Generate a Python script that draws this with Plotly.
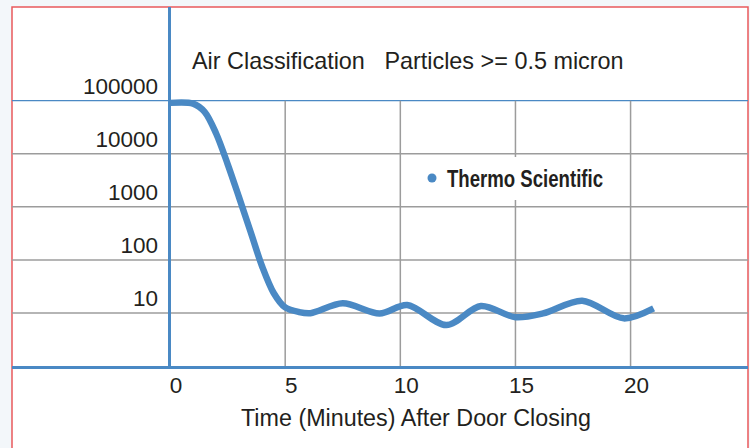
import plotly.graph_objects as go

# ---- data ----
minutes = [0, 1.0, 1.5, 2.0, 2.5, 3.0, 3.5, 4.0, 4.5, 5.0, 5.6, 6.1,
           7.5, 9.1, 10.3, 12.0, 13.5, 15.0, 16.2, 17.9, 19.7, 21.0]
particles = [91000, 88000, 61500, 24100, 6400, 1490, 335, 75, 23.8, 12.7, 10.4, 9.9,
             15.2, 9.8, 14.1, 5.9, 13.5, 8.3, 9.8, 17.0, 7.9, 12.2]
series_name = "Thermo Scientific"

x_ticks = [0, 5, 10, 15, 20]
x_tick_labels = ["0", "5", "10", "15", "20"]
y_ticks = [10, 100, 1000, 10000, 100000]
y_tick_labels = ["10", "100", "1000", "10000", "100000"]
grid_top = 100000
grid_bottom = 1

title_text = "Air Classification\u00a0\u00a0\u00a0Particles >= 0.5 micron"
x_title = "Time (Minutes) After Door Closing"

# ---- styles ----
BLUE = "#4a89c4"
GRID = "#9c9c9c"
TEXT = "#231f20"
RED = "#e95a5c"
FONT = "Liberation Sans, Arial, sans-serif"

W, H = 750, 448
ML, MR, MT, MB = 12, 2, 7, 82
plot_w = W - ML - MR
plot_h = H - MT - MB

fig = go.Figure()

# main curve
fig.add_trace(go.Scatter(
    x=minutes, y=particles, mode="lines",
    line=dict(color=BLUE, width=6.5, shape="spline", smoothing=0.9),
    showlegend=False, hoverinfo="skip"))

# legend entry (dot symbol)
fig.add_trace(go.Scatter(
    x=[None], y=[None], mode="markers", name=series_name,
    marker=dict(color=BLUE, size=9), showlegend=True))

shapes = []
# white card with red border
shapes.append(dict(type="rect", xref="paper", yref="paper",
                   x0=0, x1=1, y0=-(MB + 20) / plot_h, y1=1,
                   fillcolor="white", line=dict(color=RED, width=1.5),
                   layer="below"))
# horizontal grid lines (grey), top one blue
for yv in y_ticks:
    shapes.append(dict(type="line", xref="paper", yref="y",
                       x0=0, x1=1, y0=yv, y1=yv,
                       line=dict(color=BLUE if yv == grid_top else GRID,
                                 width=1.3 if yv == grid_top else 1.5),
                       layer="below"))
# vertical grid lines from the bottom to the 100000 line
for xv in x_ticks[1:]:
    shapes.append(dict(type="line", xref="x", yref="y",
                       x0=xv, x1=xv, y0=grid_bottom, y1=grid_top,
                       line=dict(color=GRID, width=1.5), layer="below"))

yaxis_px = 168.5
fig.update_layout(
    width=W, height=H,
    margin=dict(l=ML, r=MR, t=MT, b=MB, pad=0),
    paper_bgcolor="#f3f7fa",
    plot_bgcolor="white",
    font=dict(family=FONT, color=TEXT),
    shapes=shapes,
    xaxis=dict(
        range=[-6.865, 25.10],
        tickmode="array", tickvals=x_ticks, ticktext=x_tick_labels,
        showgrid=False, zeroline=False,
        showline=True, linecolor=BLUE, linewidth=3,
        ticks="", ticklabelshift=6, ticklabelstandoff=-3,
        tickfont=dict(size=22.5, color=TEXT, family=FONT),
        fixedrange=True),
    yaxis=dict(
        type="log", range=[0, 6.766],
        anchor="free", position=(yaxis_px - ML) / plot_w,
        tickmode="array", tickvals=y_ticks, ticktext=y_tick_labels,
        showgrid=False,
        zeroline=False, showline=True, linecolor=BLUE, linewidth=3,
        ticks="", ticklabelshift=-15, ticklabelstandoff=5,
        tickfont=dict(size=22.5, color=TEXT, family=FONT),
        fixedrange=True),
    legend=dict(
        x=(412 - ML) / plot_w, xanchor="left",
        y=(366 - 178) / plot_h, yanchor="middle",
        bgcolor="white", borderwidth=0,
        font=dict(family=FONT, size=23, color=TEXT, weight="bold"),
        itemwidth=30),
    annotations=[
        dict(text=title_text, xref="paper", yref="paper",
             x=(190 - ML) / plot_w, xanchor="left",
             y=(366 - 61) / plot_h, yanchor="middle",
             showarrow=False, font=dict(size=23.4, color=TEXT, family=FONT)),
        dict(text=x_title, xref="paper", yref="paper",
             x=(415.5 - ML) / plot_w, xanchor="center",
             y=-(418 - 366) / plot_h, yanchor="middle",
             showarrow=False, font=dict(size=23.3, color=TEXT, family=FONT)),
    ],
)

post = """
document.body.style.margin = '0px';
var gd = document.getElementById('{plot_id}');
var t = gd.querySelector('.legendtext');
if (t) {
  t.setAttribute('textLength', '156');
  t.setAttribute('lengthAdjust', 'spacingAndGlyphs');
  t.setAttribute('x', '35');
}
var bg = gd.querySelector('.legend rect.bg');
if (bg) { bg.setAttribute('width', '200'); }
"""

fig.write_html("out.html", post_script=post, config={"displayModeBar": False})
